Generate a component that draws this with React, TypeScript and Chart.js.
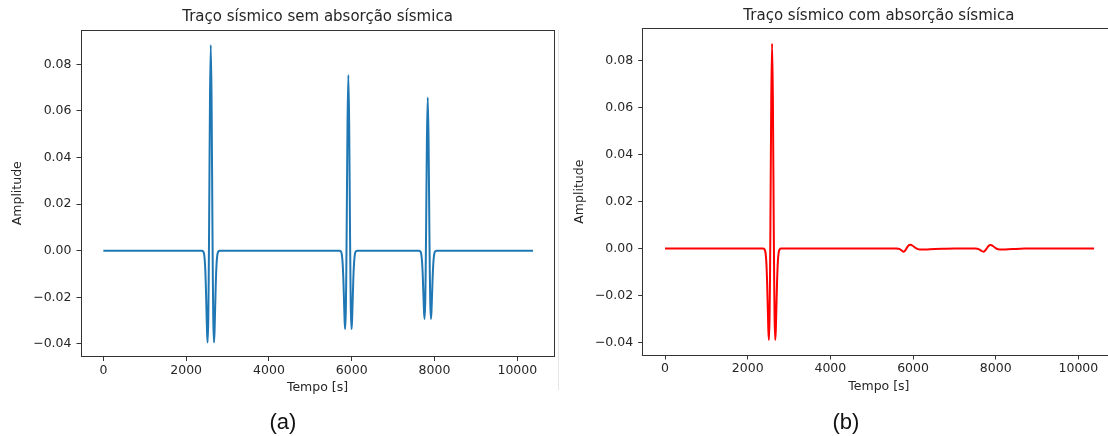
import { useEffect, useRef } from "react";
import { Chart, registerables } from "chart.js";

Chart.register(...registerables);

// Trace without absorption: three Ricker-like reflections
const timeNoAbsorption = [
  0,
  2375, 2415, 2435, 2455, 2475, 2495, 2505, 2518, 2535, 2545, 2555, 2575, 2595,
  2615, 2635, 2645, 2655, 2672, 2685, 2695, 2715, 2735, 2755, 2775, 2815,
  5698, 5738, 5758, 5778, 5798, 5818, 5828, 5841, 5858, 5868, 5878, 5898, 5918,
  5938, 5958, 5968, 5978, 5995, 6008, 6018, 6038, 6058, 6078, 6098, 6138,
  7616, 7656, 7676, 7696, 7716, 7736, 7746, 7759, 7776, 7786, 7796, 7816, 7836,
  7856, 7876, 7886, 7896, 7913, 7926, 7936, 7956, 7976, 7996, 8016, 8056,
  10380,
];
const ampNoAbsorption = [
  0,
  0, -0.0004, -0.0016, -0.0056, -0.0146, -0.0286, -0.0352, -0.0394, -0.0291, -0.0124, 0.0112, 0.0637, 0.0883,
  0.0637, 0.0112, -0.0124, -0.0291, -0.0394, -0.0352, -0.0286, -0.0146, -0.0056, -0.0016, -0.0004, 0,
  0, -0.0003, -0.0014, -0.0048, -0.0124, -0.0244, -0.0301, -0.0336, -0.0249, -0.0106, 0.0096, 0.0544, 0.0754,
  0.0544, 0.0096, -0.0106, -0.0249, -0.0336, -0.0301, -0.0244, -0.0124, -0.0048, -0.0014, -0.0003, 0,
  0, -0.0003, -0.0012, -0.0041, -0.0108, -0.0213, -0.0262, -0.0293, -0.0217, -0.0092, 0.0083, 0.0474, 0.0657,
  0.0474, 0.0083, -0.0092, -0.0217, -0.0293, -0.0262, -0.0213, -0.0108, -0.0041, -0.0012, -0.0003, 0,
  0,
];

// Trace with absorption: first reflection intact, later ones strongly attenuated
const timeWithAbsorption = [
  0,
  2370, 2410, 2430, 2450, 2470, 2490, 2500, 2513, 2530, 2540, 2550, 2570, 2590,
  2610, 2630, 2640, 2650, 2667, 2680, 2690, 2710, 2730, 2750, 2770, 2810,
  5600, 5680, 5720, 5760, 5800, 5840, 5880, 5940, 6000, 6060, 6120, 6200, 6400, 6700, 7000,
  7500, 7600, 7650, 7700, 7740, 7780, 7820, 7880, 7940, 8000, 8060, 8150, 8400, 8700,
  10380,
];
const ampWithAbsorption = [
  0,
  0, -0.0004, -0.0016, -0.0055, -0.0144, -0.0282, -0.0348, -0.0388, -0.0287, -0.0122, 0.0111, 0.0628, 0.0871,
  0.0628, 0.0111, -0.0122, -0.0287, -0.0388, -0.0348, -0.0282, -0.0144, -0.0055, -0.0016, -0.0004, 0,
  0, -0.0002, -0.0007, -0.0013, -0.001, 0, 0.0011, 0.0016, 0.0011, 0.0003, -0.0002, -0.0004, -0.0003, -0.0001, 0,
  0, -0.0003, -0.0009, -0.0013, -0.0009, 0, 0.001, 0.0015, 0.001, 0.0002, -0.0003, -0.0004, -0.0002, 0,
  0,
];

const xTickValues = [0, 2000, 4000, 6000, 8000, 10000];
const yTickValues = [-0.04, -0.02, 0, 0.02, 0.04, 0.06, 0.08];

const FONT = "'DejaVu Sans', sans-serif";
const TEXT = "#262626";
const AXIS = "#333333";

const framePlugin = {
  id: "frame",
  afterDatasetsDraw(chart: any) {
    const { ctx, chartArea } = chart;
    const l = Math.floor(chartArea.left) + 0.5;
    const t = Math.floor(chartArea.top) + 0.5;
    const r = Math.floor(chartArea.right) + 0.5;
    const b = Math.floor(chartArea.bottom) + 0.5;
    ctx.save();
    ctx.strokeStyle = AXIS;
    ctx.lineWidth = 1;
    ctx.strokeRect(l, t, r - l, b - t);
    ctx.restore();
  },
};

type PanelLayout = {
  left: number;
  width: number;
  yWidth: number;
  xHeight: number;
  titleTop: number;
  titleBottom: number;
  yTitlePad: number;
  xTitlePad: number;
  yMin: number;
  yMax: number;
};

function TracePanel(props: {
  times: number[];
  amps: number[];
  color: string;
  title: string;
  layout: PanelLayout;
}) {
  const { times, amps, color, title, layout } = props;
  const ref = useRef<HTMLCanvasElement>(null);

  useEffect(() => {
    const tickFont = { family: FONT, size: 12.5, lineHeight: 1.2 };
    const chart = new Chart(ref.current as HTMLCanvasElement, {
      type: "line",
      data: {
        datasets: [
          {
            data: times.map((t, i) => ({ x: t, y: amps[i] })),
            borderColor: color,
            borderWidth: 2,
            pointRadius: 0,
            cubicInterpolationMode: "monotone",
            fill: false,
          },
        ],
      },
      options: {
        animation: false,
        responsive: false,
        events: [],
        layout: { padding: { left: 0, right: 10, top: 0, bottom: 0 } },
        plugins: {
          legend: { display: false },
          tooltip: { enabled: false },
          title: {
            display: true,
            text: title,
            fullSize: false,
            color: TEXT,
            font: { family: FONT, size: 15, weight: "normal", lineHeight: 1.2 },
            padding: { top: layout.titleTop, bottom: layout.titleBottom },
          },
        },
        scales: {
          x: {
            type: "linear",
            min: -540,
            max: 10886,
            afterFit: (s: any) => {
              s.height = layout.xHeight;
            },
            afterBuildTicks: (s: any) => {
              s.ticks = xTickValues.map((v) => ({ value: v }));
            },
            grid: {
              display: true,
              drawOnChartArea: false,
              drawTicks: true,
              tickLength: 4.5,
              tickColor: AXIS,
              tickWidth: 1,
            },
            border: { display: false },
            ticks: {
              color: TEXT,
              font: tickFont,
              padding: 2,
              maxRotation: 0,
              autoSkip: false,
              callback: (v: any) => String(Math.round(Number(v))),
            },
            title: {
              display: true,
              text: "Tempo [s]",
              color: TEXT,
              font: tickFont,
              padding: { top: 0, bottom: layout.xTitlePad },
            },
          },
          y: {
            type: "linear",
            min: layout.yMin,
            max: layout.yMax,
            afterFit: (s: any) => {
              s.width = layout.yWidth;
            },
            afterBuildTicks: (s: any) => {
              s.ticks = yTickValues.map((v) => ({ value: v }));
            },
            grid: {
              display: true,
              drawOnChartArea: false,
              drawTicks: true,
              tickLength: 4.5,
              tickColor: AXIS,
              tickWidth: 1,
            },
            border: { display: false },
            ticks: {
              color: TEXT,
              font: tickFont,
              padding: 5,
              autoSkip: false,
              callback: (v: any) => {
                const n = Number(v);
                return (n < -1e-9 ? "\u2212" : "") + Math.abs(n).toFixed(2);
              },
            },
            title: {
              display: true,
              text: "Amplitude",
              color: TEXT,
              font: tickFont,
              padding: { top: layout.yTitlePad, bottom: 0 },
            },
          },
        },
      } as any,
      plugins: [framePlugin],
    });
    return () => chart.destroy();
  }, []);

  return (
    <canvas
      ref={ref}
      width={layout.width}
      height={436}
      style={{ position: "absolute", left: layout.left, top: 0 }}
    />
  );
}

const leftLayout: PanelLayout = {
  left: 0,
  width: 564,
  yWidth: 81,
  xHeight: 79.5,
  titleTop: 8,
  titleBottom: 4,
  yTitlePad: 10,
  xTitlePad: 40.5,
  yMin: -0.0454,
  yMax: 0.0947,
};

const rightLayout: PanelLayout = {
  left: 562,
  width: 563,
  yWidth: 80.7,
  xHeight: 81,
  titleTop: 7,
  titleBottom: 3.3,
  yTitlePad: 10.5,
  xTitlePad: 41.5,
  yMin: -0.0452,
  yMax: 0.0936,
};

const captionStyle: any = {
  position: "absolute",
  top: 409,
  width: 60,
  textAlign: "center",
  fontFamily: "'Liberation Sans', Arial, sans-serif",
  fontSize: 22,
  lineHeight: "26px",
  color: "#111",
};

export default function App() {
  return (
    <div
      style={{
        position: "fixed",
        left: 0,
        top: 0,
        width: 1108,
        height: 436,
        overflow: "hidden",
        background: "#ffffff",
      }}
    >
      <TracePanel
        times={timeNoAbsorption}
        amps={ampNoAbsorption}
        color="#1f77b4"
        title="Traço sísmico sem absorção sísmica"
        layout={leftLayout}
      />
      <TracePanel
        times={timeWithAbsorption}
        amps={ampWithAbsorption}
        color="#ff0000"
        title="Traço sísmico com absorção sísmica"
        layout={rightLayout}
      />
      <div
        style={{
          position: "absolute",
          left: 558,
          top: 30,
          width: 1,
          height: 360,
          background: "#e6e6e6",
        }}
      />
      <div style={{ ...captionStyle, left: 283 - 30 }}>(a)</div>
      <div style={{ ...captionStyle, left: 846 - 30 }}>(b)</div>
    </div>
  );
}
